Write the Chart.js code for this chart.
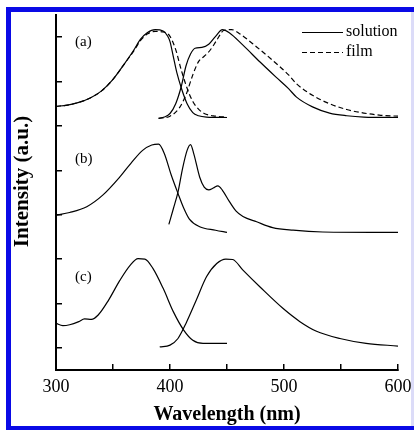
<!DOCTYPE html>
<html lang="en">
<head>
  <meta charset="UTF-8" />
  <title>Absorption and emission spectra</title>
  <script src="https://cdn.jsdelivr.net/npm/chart.js"></script>
  <style>
    html, body { margin: 0; padding: 0; background: #fff; }
    #wrap { width: 414px; height: 430px; }
  </style>
</head>
<body>
  <div id="wrap"><canvas id="spec" width="414" height="430"></canvas></div>
  <script>
    // (a) absorption, solution and film
    const absASolX = [300, 310, 320, 330, 340, 350, 360, 368, 374, 380, 387, 394, 398, 400, 403, 406, 410, 415, 420, 425, 432, 450];
    const absASolY = [5.44, 5.47, 5.53, 5.63, 5.79, 6.05, 6.40, 6.70, 6.95, 7.10, 7.17, 7.14, 7.02, 6.90, 6.55, 6.20, 5.85, 5.50, 5.30, 5.23, 5.20, 5.19];
    const absAFilmX = [300, 310, 320, 330, 340, 350, 360, 368, 374, 380, 387, 394, 400, 405, 410, 415, 420, 425, 430, 440, 450];
    const absAFilmY = [5.44, 5.47, 5.53, 5.63, 5.79, 6.05, 6.40, 6.68, 6.92, 7.07, 7.13, 7.12, 7.02, 6.72, 6.25, 5.85, 5.55, 5.38, 5.28, 5.22, 5.20];
    // (a) emission, solution and film
    const emASolX = [390, 395, 400, 405, 410, 414, 418, 422, 428, 434, 440, 446, 452, 464, 479, 493, 504, 511, 525, 540, 555, 570, 600];
    const emASolY = [5.17, 5.20, 5.28, 5.50, 5.90, 6.35, 6.62, 6.75, 6.77, 6.84, 7.02, 7.17, 7.10, 6.82, 6.44, 6.10, 5.84, 5.65, 5.43, 5.29, 5.23, 5.20, 5.19];
    const emAFilmX = [390, 400, 408, 414, 420, 425, 430, 435, 441, 447, 454, 461, 476, 490, 504, 511, 525, 540, 555, 570, 585, 600];
    const emAFilmY = [5.17, 5.22, 5.40, 5.70, 6.15, 6.45, 6.57, 6.70, 6.93, 7.15, 7.17, 7.08, 6.78, 6.48, 6.15, 5.95, 5.69, 5.50, 5.37, 5.29, 5.24, 5.22];
    // (b)
    const absBX = [300, 312, 327, 341, 356, 368, 376, 384, 390, 395, 401, 407, 412, 417, 426, 440, 450];
    const absBY = [2.99, 3.05, 3.18, 3.44, 3.85, 4.23, 4.45, 4.57, 4.59, 4.38, 3.90, 3.48, 3.15, 2.90, 2.73, 2.65, 2.60];
    const emBX = [399, 403, 407, 411, 415, 418, 421, 426, 430, 434, 438, 442, 446, 452, 458, 464, 476, 490, 508, 534, 600];
    const emBY = [2.78, 3.14, 3.51, 4.04, 4.45, 4.58, 4.36, 3.85, 3.62, 3.56, 3.60, 3.65, 3.55, 3.30, 3.08, 2.96, 2.84, 2.71, 2.65, 2.61, 2.60];
    // (c)
    const absCX = [300, 306, 312, 320, 325, 331, 337, 346, 356, 365, 372, 378, 385, 394, 403, 412, 420, 429, 450];
    const absCY = [0.55, 0.50, 0.52, 0.59, 0.65, 0.64, 0.74, 1.07, 1.52, 1.86, 2.01, 2.00, 1.79, 1.34, 0.81, 0.40, 0.17, 0.10, 0.10];
    const emCX = [391, 400, 407, 414, 423, 432, 441, 449, 455, 464, 479, 499, 514, 528, 549, 572, 600];
    const emCY = [0.02, 0.06, 0.21, 0.55, 1.07, 1.60, 1.90, 2.00, 1.99, 1.75, 1.37, 0.89, 0.59, 0.38, 0.21, 0.10, 0.04];

    const xTicks = [300, 350, 400, 450, 500, 550, 600];
    const yTicks = [0, 1, 2, 3, 4, 5, 6, 7];
    const panelLabels = ['(a)', '(b)', '(c)'];
    const panelLabelY = [6.9, 4.25, 1.6];
    const legendLabels = ['solution', 'film'];

    const serif = "'Liberation Serif', 'DejaVu Serif', serif";

    function pts(xs, ys) {
      return xs.map((x, i) => ({ x: x, y: ys[i] }));
    }
    function curve(xs, ys, dashed) {
      return {
        data: pts(xs, ys),
        borderColor: '#000',
        borderWidth: 1.2,
        borderDash: dashed ? [5, 3] : [],
        pointRadius: 0,
        fill: false,
        cubicInterpolationMode: 'monotone'
      };
    }

    // frame, panel labels, legend and y title
    const decorations = {
      id: 'decorations',
      afterDraw(chart) {
        const ctx = chart.ctx;
        const ys = chart.scales.y;
        ctx.save();
        // panel labels
        ctx.fillStyle = '#000';
        ctx.font = '15px ' + serif;
        ctx.textAlign = 'left';
        ctx.textBaseline = 'middle';
        panelLabels.forEach((t, i) => ctx.fillText(t, 75, ys.getPixelForValue(panelLabelY[i])));
        // legend
        ctx.font = '16px ' + serif;
        ctx.lineWidth = 1.2;
        ctx.strokeStyle = '#000';
        legendLabels.forEach((t, i) => {
          const y = 32.5 + i * 20;
          ctx.setLineDash(i === 1 ? [5, 3] : []);
          ctx.beginPath();
          ctx.moveTo(302, y);
          ctx.lineTo(343, y);
          ctx.stroke();
          ctx.fillText(t, 346, y - 0.5);
        });
        ctx.setLineDash([]);
        // y axis title
        ctx.translate(23, 181.5);
        ctx.rotate(-Math.PI / 2);
        ctx.textAlign = 'center';
        ctx.font = 'bold 21px ' + serif;
        ctx.fillText('Intensity (a.u.)', 0, 0);
        ctx.restore();
        // blue frame
        ctx.save();
        ctx.strokeStyle = '#0a0ae6';
        ctx.lineWidth = 5;
        ctx.strokeRect(8.5, 9.5, 409, 419);
        ctx.fillStyle = '#dcdcf8';
        ctx.fillRect(411, 12, 3, 414);
        ctx.restore();
      }
    };

    const ctx = document.getElementById('spec').getContext('2d');
    const chart = new Chart(ctx, {
      type: 'line',
      data: {
        datasets: [
          curve(absASolX, absASolY, false),
          curve(absAFilmX, absAFilmY, true),
          curve(emASolX, emASolY, false),
          curve(emAFilmX, emAFilmY, true),
          curve(absBX, absBY, false),
          curve(emBX, emBY, false),
          curve(absCX, absCY, false),
          curve(emCX, emCY, false)
        ]
      },
      options: {
        responsive: false,
        animation: false,
        layout: { padding: { left: 0, right: 16, top: 15, bottom: 0 } },
        plugins: { legend: { display: false }, tooltip: { enabled: false } },
        scales: {
          x: {
            type: 'linear',
            min: 300,
            max: 600,
            afterBuildTicks: s => { s.ticks = xTicks.map(v => ({ value: v })); },
            afterFit: s => { s.height = 60; s.paddingLeft = 0; s.paddingRight = 0; },
            ticks: {
              autoSkip: false,
              maxRotation: 0,
              padding: 12,
              color: '#000',
              font: { family: serif, size: 18 },
              callback: v => (v % 100 === 0 ? v : '')
            },
            grid: { drawOnChartArea: false, tickLength: -6, color: '#000', lineWidth: 1.5 },
            border: { color: '#000', width: 2 },
            title: {
              display: true,
              text: 'Wavelength (nm)',
              color: '#000',
              font: { family: serif, size: 20, weight: 'bold' },
              padding: { top: 0, bottom: 3 }
            }
          },
          y: {
            min: -0.5,
            max: 7.5,
            afterBuildTicks: s => { s.ticks = yTicks.map(v => ({ value: v })); },
            afterFit: s => { s.width = 56; s.paddingTop = 0; s.paddingBottom = 0; },
            ticks: { display: false },
            grid: { drawOnChartArea: false, tickLength: -6, color: '#000', lineWidth: 1.5 },
            border: { color: '#000', width: 2 }
          }
        }
      },
      plugins: [decorations]
    });
  </script>
</body>
</html>
